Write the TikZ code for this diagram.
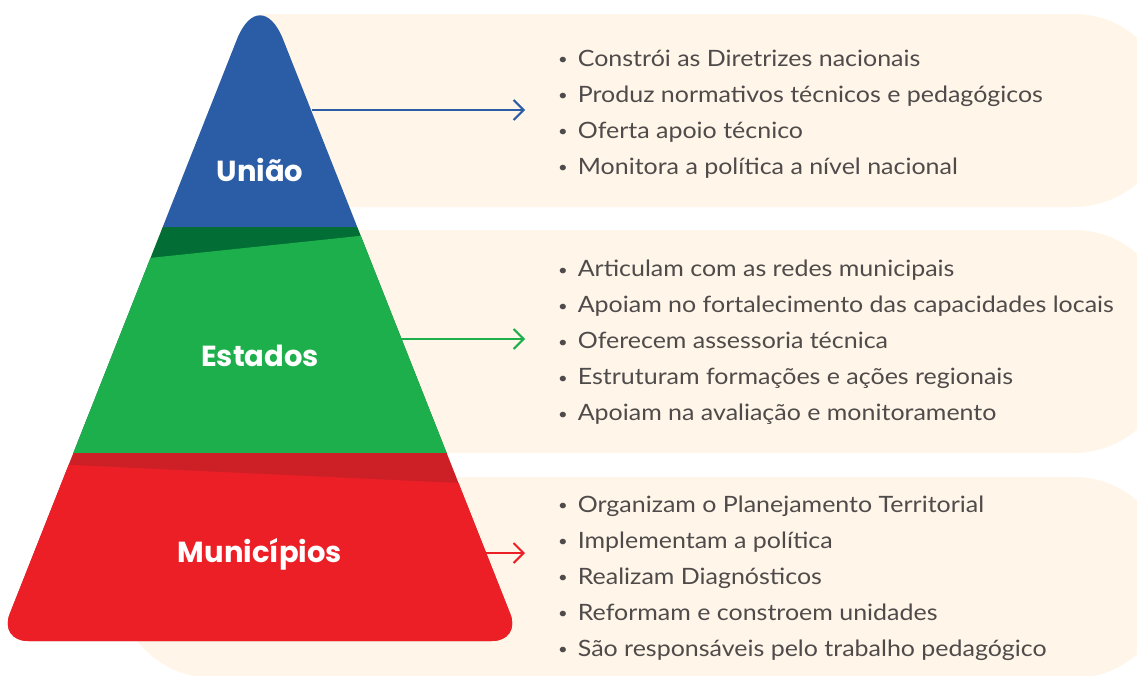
\documentclass[tikz,border=0pt]{standalone}
\usepackage{fontspec}
\setmainfont{Lato}[FakeStretch=1.11]
\newfontfamily\nivelfont{Poppins}
\usetikzlibrary{arrows.meta}

\definecolor{uniao}{HTML}{2B5DA7}
\definecolor{estado}{HTML}{1DAF4B}
\definecolor{estadoesc}{HTML}{036D36}
\definecolor{munic}{HTML}{EC1F26}
\definecolor{municesc}{HTML}{CC1F26}
\definecolor{creme}{HTML}{FFF5E8}
\definecolor{texto}{HTML}{4F4B4B}

\newcommand{\bul}{{\fontsize{15}{15}\selectfont\raisebox{1.5pt}{\textbullet}}\hspace{10pt}}

\tikzset{
  lista/.style={anchor=west,align=left,inner sep=0pt,text=texto,
    font=\fontsize{22.5}{36}\selectfont},
  nivel/.style={text=white,font=\nivelfont\bfseries\fontsize{29}{29}\selectfont},
  seta/.style={line width=2pt,-{Straight Barb[length=10pt,width=20pt]}}
}

\begin{document}
\begin{tikzpicture}[x=1pt,y=-1pt]
\useasboundingbox (0,0) rectangle (1137,675);
\clip (0,0) rectangle (1137,675);

% fundos
\fill[creme] (262,14) [rounded corners=96] -- (1170,14) -- (1170,207) [sharp corners] -- (262,207) -- cycle;
\fill[creme] (262,230) [rounded corners=96] -- (1170,230) -- (1170,453) [sharp corners] -- (262,453) -- cycle;
\fill[creme,rounded corners=96] (117,477) rectangle (1170,678);

% piramide
\begin{scope}
\clip (260,641) [rounded corners=29] -- (521,641) [rounded corners=63] -- (260,-19) [rounded corners=29] -- (-1,641) [sharp corners] -- cycle;
\fill[uniao] (0,-20) rectangle (540,227);
\fill[estadoesc] (0,227) rectangle (540,453);
\fill[estado] (0,273.7) -- (540,217) -- (540,453) -- (0,453) -- cycle;
\fill[municesc] (0,453) rectangle (540,660);
\fill[munic] (0,461.7) -- (540,486.8) -- (540,660) -- (0,660) -- cycle;
\end{scope}

\node[nivel] (uniaolbl) at (260,170) {União};
\node[nivel] (estadoslbl) at (260,356) {Estados};
\node[nivel] (municlbl) at (260,554) {Municípios};

\node[lista] (luniao) at (558,114) {\bul Constrói as Diretrizes nacionais\\
  \bul Produz normativos técnicos e pedagógicos\\
  \bul Oferta apoio técnico\\
  \bul Monitora a política a nível nacional};
\node[lista] (lestados) at (558,342.5) {\bul Articulam com as redes municipais\\
  \bul Apoiam no fortalecimento das capacidades locais\\
  \bul Oferecem assessoria técnica\\
  \bul Estruturam formações e ações regionais\\
  \bul Apoiam na avaliação e monitoramento};
\node[lista] (lmunic) at (558,578) {\bul Organizam o Planejamento Territorial\\
  \bul Implementam a política\\
  \bul Realizam Diagnósticos\\
  \bul Reformam e constroem unidades\\
  \bul São responsáveis pelo trabalho pedagógico};

% setas
\coordinate (u1) at (312,110);
\coordinate (u2) at (525,110);
\coordinate (e1) at (392,339);
\coordinate (e2) at (525,339);
\coordinate (m1) at (485,553);
\coordinate (m2) at (525,553);
\draw[seta,uniao] (u1) -- (u2);
\draw[seta,estado] (e1) -- (e2);
\draw[seta,munic] (m1) -- (m2);
\end{tikzpicture}
\end{document}
